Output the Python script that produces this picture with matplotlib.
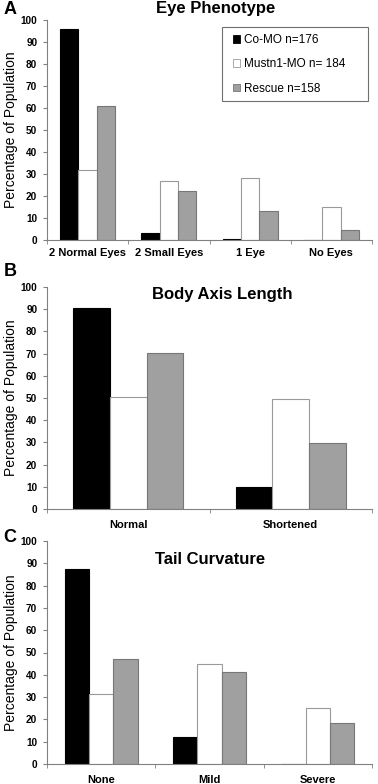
import numpy as np
import matplotlib
matplotlib.use('Agg')
import matplotlib.pyplot as plt
from matplotlib.patches import Patch, Rectangle

plt.rcParams['font.family'] = ['Liberation Sans', 'DejaVu Sans']

# -------- DATA --------
series = ['Co-MO n=176', 'Mustn1-MO n= 184', 'Rescue n=158']

eyeCats = ['2 Normal Eyes', '2 Small Eyes', '1 Eye', 'No Eyes']
eyeCo = [96, 3.3, 0.5, 0]
eyeMustn1 = [32, 27, 28, 15]
eyeRescue = [61, 22.3, 13, 4.5]

bodyCats = ['Normal', 'Shortened']
bodyCo = [90.5, 9.8]
bodyMustn1 = [50.6, 49.5]
bodyRescue = [70.4, 29.7]

tailCats = ['None', 'Mild', 'Severe']
tailCo = [87.5, 12, 0]
tailMustn1 = [31.2, 44.8, 25]
tailRescue = [47, 41.2, 18.3]
# -------- DATA. --------

faceColors = ['black', 'white', '#a0a0a0']
edgeColors = ['black', '#9a9a9a', '#777777']

W, H = 378, 784
fig = plt.figure(figsize=(W / 100, H / 100), dpi=100, facecolor='w')


def px_axes(left, right, top, bottom):
    return fig.add_axes([left / W, 1 - bottom / H, (right - left) / W, (bottom - top) / H])


def draw_panel(ax, cats, vals, xlabelsize, xpad):
    n = len(cats)
    x = np.arange(n)
    w = 0.225
    for k, v in enumerate(vals):
        ax.bar(x + (k - 1) * w, v, width=w, color=faceColors[k], edgecolor=edgeColors[k],
               linewidth=0.8, zorder=2)
    ax.set_xlim(-0.5, n - 0.5)
    ax.set_ylim(0, 100)
    ax.set_yticks(np.arange(0, 101, 10))
    ax.set_xticks(x)
    ax.set_xticklabels(cats, fontsize=xlabelsize, fontweight='bold')
    ax.set_xticks(np.arange(n + 1) - 0.5, minor=True)
    ax.tick_params(axis='x', which='major', length=0, pad=xpad)
    ax.tick_params(axis='x', which='minor', length=3, color='#808080', direction='out')
    ax.tick_params(axis='y', length=3, color='#808080', pad=4, labelsize=7.2)
    for lab in ax.get_yticklabels():
        lab.set_fontweight('bold')
    for s in ['top', 'right']:
        ax.spines[s].set_visible(False)
    ax.spines['left'].set_color('#808080')
    ax.spines['bottom'].set_color('#808080')
    ax.set_ylabel('Percentage of Population', fontsize=10)
    ax.yaxis.set_label_coords(-0.09, 0.5)


# -------- PANEL A --------
axA = px_axes(47, 372, 20, 240)
draw_panel(axA, eyeCats, [eyeCo, eyeMustn1, eyeRescue], 8, 6)

# ---- Legend: box drawn separately so the padding matches
fig.patches.append(Rectangle((222 / W, 1 - 101 / H), 146 / W, 74 / H, transform=fig.transFigure,
                             facecolor='white', edgecolor='#707070', linewidth=0.8, zorder=5))
handles = [Patch(facecolor=faceColors[k], edgecolor=edgeColors[k], linewidth=0.6) for k in range(3)]
leg = fig.legend(handles=handles, labels=series, loc='upper left',
                 bbox_to_anchor=(233 / W, 1 - 34 / H), bbox_transform=fig.transFigure,
                 borderaxespad=0, borderpad=0, fontsize=8.5, handlelength=0.6, handleheight=0.6,
                 handletextpad=0.3, labelspacing=1.05, frameon=False)
leg.set_zorder(6)

# -------- PANEL B --------
axB = px_axes(47, 372, 287, 509)
draw_panel(axB, bodyCats, [bodyCo, bodyMustn1, bodyRescue], 8, 8)

# -------- PANEL C --------
axC = px_axes(47, 372, 541, 764)
draw_panel(axC, tailCats, [tailCo, tailMustn1, tailRescue], 8, 8)

# ---- Titles and panel letters
fig.text(216 / W, 1 - 8 / H, 'Eye Phenotype', fontsize=12, fontweight='bold', ha='center', va='center')
fig.text(222 / W, 1 - 294 / H, 'Body Axis Length', fontsize=12, fontweight='bold', ha='center', va='center')
fig.text(210 / W, 1 - 559 / H, 'Tail Curvature', fontsize=12, fontweight='bold', ha='center', va='center')
fig.text(10 / W, 1 - 9 / H, 'A', fontsize=13, fontweight='bold', ha='center', va='center')
fig.text(10 / W, 1 - 272 / H, 'B', fontsize=13, fontweight='bold', ha='center', va='center')
fig.text(10 / W, 1 - 537 / H, 'C', fontsize=13, fontweight='bold', ha='center', va='center')

plt.savefig('out.png', dpi=100)
plt.close()
